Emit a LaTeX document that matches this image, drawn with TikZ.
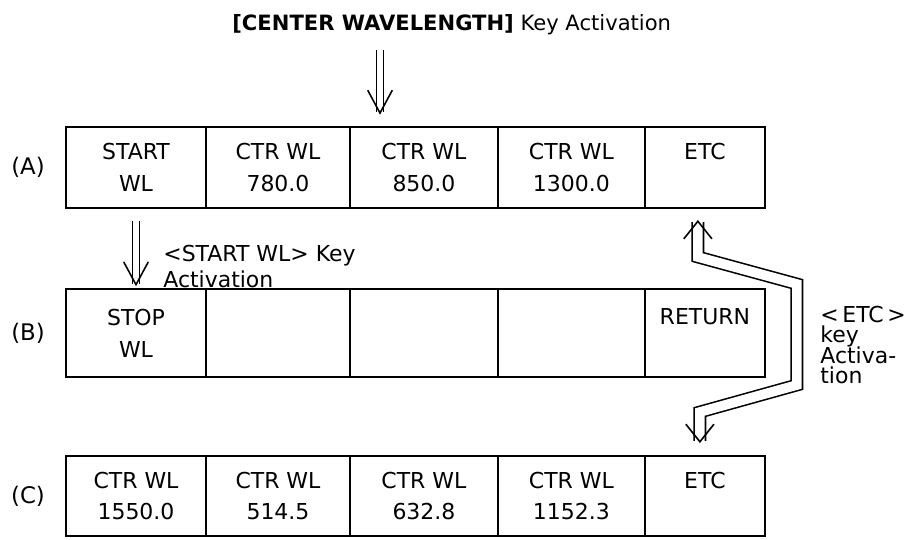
\documentclass[tikz,border=0pt]{standalone}
\usepackage{fontspec}
\setmainfont{DejaVu Sans}
\usetikzlibrary{positioning,arrows.meta,calc}
\newcommand\etcfont{\fontsize{12.5}{11.5}\selectfont\lineskiplimit=-5pt\relax}
\tikzset{
    vtip/.tip={Straight Barb[length=10pt, width=16pt, line width=0.9pt]},
    ktip/.tip={Straight Barb[length=13pt, width=14pt, line width=0.9pt]}
}

\begin{document}
\begin{tikzpicture}[
        x=0.02cm, y=-0.02cm,
        cell/.style={draw, line width=1.1pt, inner sep=0pt, outer sep=0pt, align=center, font=\fontsize{12.5}{18.2}\selectfont},
        rowA/.style={cell, minimum height=1.62cm},
        rowB/.style={cell, minimum height=1.76cm},
        rowC/.style={cell, minimum height=1.6cm},
        col1/.style={minimum width=2.8cm},
        col2/.style={minimum width=2.88cm},
        col3/.style={minimum width=2.96cm},
        col4/.style={minimum width=2.94cm},
        col5/.style={minimum width=2.4cm},
        rowlbl/.style={font=\fontsize{13}{15}\selectfont},
        keylbl/.style={inner sep=0pt, align=left},
        dbl/.style={double, double distance=3pt, line width=0.9pt, -ktip}
    ]
    \useasboundingbox (0,0) rectangle (913,539);

    % Titel
    \node[anchor=base west, inner sep=0pt, font=\fontsize{12}{14}\selectfont] (ttl) at (232,30) {\textbf{[CENTER WAVELENGTH]} Key Activation};
    \coordinate (ctrin) at (380,50);

    % Zeile (A)
    \node[rowlbl] (la) at (28,167.5) {(A)};
    \node[rowA, col1] (a1) at (136,167.5) {START\\WL};
    \node[rowA, col2, right=0pt of a1] (a2) {CTR WL\\780.0};
    \node[rowA, col3, right=0pt of a2] (a3) {CTR WL\\850.0};
    \node[rowA, col4, right=0pt of a3] (a4) {CTR WL\\1300.0};
    \node[rowA, col5, right=0pt of a4] (a5) {ETC\\\phantom{0}};

    % Zeile (B)
    \node[rowlbl] (lb) at (28,333) {(B)};
    \node[rowB, col1] (b1) at (136,333) {STOP\\WL};
    \node[rowB, col2, right=0pt of b1] (b2) {};
    \node[rowB, col3, right=0pt of b2] (b3) {};
    \node[rowB, col4, right=0pt of b3] (b4) {};
    \node[rowB, col5, right=0pt of b4] (b5) {RETURN\\\phantom{0}};

    % Zeile (C)
    \node[rowlbl] (lc) at (28,496) {(C)};
    \node[rowC, col1] (c1) at (136,496) {CTR WL\\1550.0};
    \node[rowC, col2, right=0pt of c1] (c2) {CTR WL\\514.5};
    \node[rowC, col3, right=0pt of c2] (c3) {CTR WL\\632.8};
    \node[rowC, col4, right=0pt of c3] (c4) {CTR WL\\1152.3};
    \node[rowC, col5, right=0pt of c4] (c5) {ETC\\\phantom{0}};

    % Tasten
    \node[keylbl, anchor=north west, font=\fontsize{12.5}{14.5}\selectfont] (startkey) at (163,245) {<START WL> Key\\Activation};
    \node[keylbl, anchor=north west, font=\etcfont] (etckey) at (820,306) {<\,ETC\,>\\key\\Activa-\\tion};

    % Pfeile
    \draw[dbl, shorten >=7pt] (ctrin) -- (ctrin |- a3.north);
    \draw[dbl, shorten <=7.5pt, shorten >=1.5pt] (a1.south) -- (b1.north);
    \draw[dbl, double distance=5.5pt, vtip-vtip] ($(a5.south)+(-7,12)$) -- ++(0,37) -- ++(99,27) -- ++(0,101) -- ++(-97,27) -- ($(c5.north)+(-5,-13)$);

\end{tikzpicture}
\end{document}
